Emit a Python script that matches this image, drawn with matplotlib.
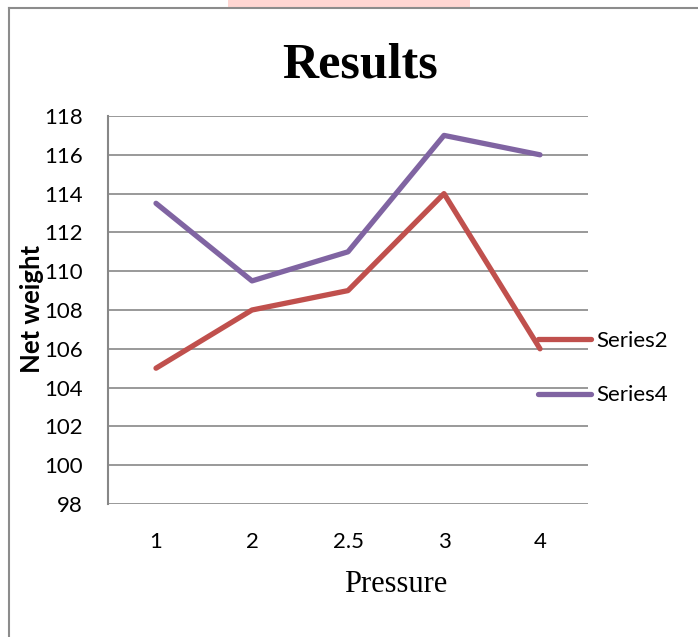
import matplotlib
matplotlib.use("Agg")
import matplotlib.pyplot as plt
from matplotlib.lines import Line2D
from matplotlib.patches import Rectangle

categories = ["1", "2", "2.5", "3", "4"]
series2 = [105, 108, 109, 114, 106]
series4 = [113.5, 109.5, 111, 117, 116]
yticks = [98, 100, 102, 104, 106, 108, 110, 112, 114, 116, 118]

W, H = 698, 637
fig = plt.figure(figsize=(W / 100, H / 100), dpi=100)

def fx(px):
    return px / W

def fy(py):
    return 1 - py / H

ax = fig.add_axes([fx(108), fy(504), fx(588) - fx(108), fy(116) - fy(504)])

x = list(range(len(categories)))
ax.plot(x, series2, color="#C0504D", lw=3.8, solid_capstyle="round", solid_joinstyle="round", label="Series2", zorder=3)
ax.plot(x, series4, color="#8064A2", lw=3.8, solid_capstyle="round", solid_joinstyle="round", label="Series4", zorder=3)

ax.set_xlim(-0.5, len(categories) - 0.5)
ax.set_ylim(98, 118)
ax.set_yticks(yticks)
ax.set_xticks(x)
ax.set_xticklabels(categories)
ax.yaxis.grid(True, color="#878787", lw=1.2)
ax.set_axisbelow(True)
for s in ["top", "right", "bottom"]:
    ax.spines[s].set_visible(False)
ax.spines["left"].set_color("#878787")
ax.spines["left"].set_linewidth(1.5)
ax.tick_params(axis="both", length=0, labelsize=16, colors="black")
ax.tick_params(axis="y", pad=18)
ax.tick_params(axis="x", pad=20)
for lab in ax.get_xticklabels() + ax.get_yticklabels():
    lab.set_fontfamily("Lato")

ax.set_xlabel("Pressure", fontfamily="Liberation Serif", fontsize=22)
ax.xaxis.set_label_coords((396 - 108) / 480, (504 - 584) / 388)
ax.xaxis.label.set_va("center")
ax.set_ylabel("Net weight", fontfamily="Lato", fontweight="bold", fontsize=18.5)
ax.yaxis.set_label_coords((32 - 108) / 480, (504 - 309) / 388)
ax.yaxis.label.set_va("center")

fig.text(fx(360), fy(65), "Results", fontfamily="Liberation Serif", fontweight="bold",
         fontsize=36, ha="center", va="center")

leg = fig.legend(loc="upper left", bbox_to_anchor=(fx(538), fy(331)), frameon=False,
                 prop={"family": "Lato", "size": 16}, handlelength=2.4, handletextpad=0.22,
                 labelspacing=1.55, borderpad=0, borderaxespad=0)

# outer chart frame (left and top edges visible)
fig.add_artist(Line2D([fx(9), fx(9)], [fy(8), 0], transform=fig.transFigure, color="#8c8c8c", lw=1.5))
fig.add_artist(Line2D([fx(9), 1], [fy(8), fy(8)], transform=fig.transFigure, color="#8c8c8c", lw=1.5))
# faint watermark strip at the top
fig.add_artist(Rectangle((fx(228), fy(7)), fx(470) - fx(228), 7 / H, transform=fig.transFigure,
                         color="#FFD6D2", lw=0))

fig.savefig("out.png", dpi=100)
